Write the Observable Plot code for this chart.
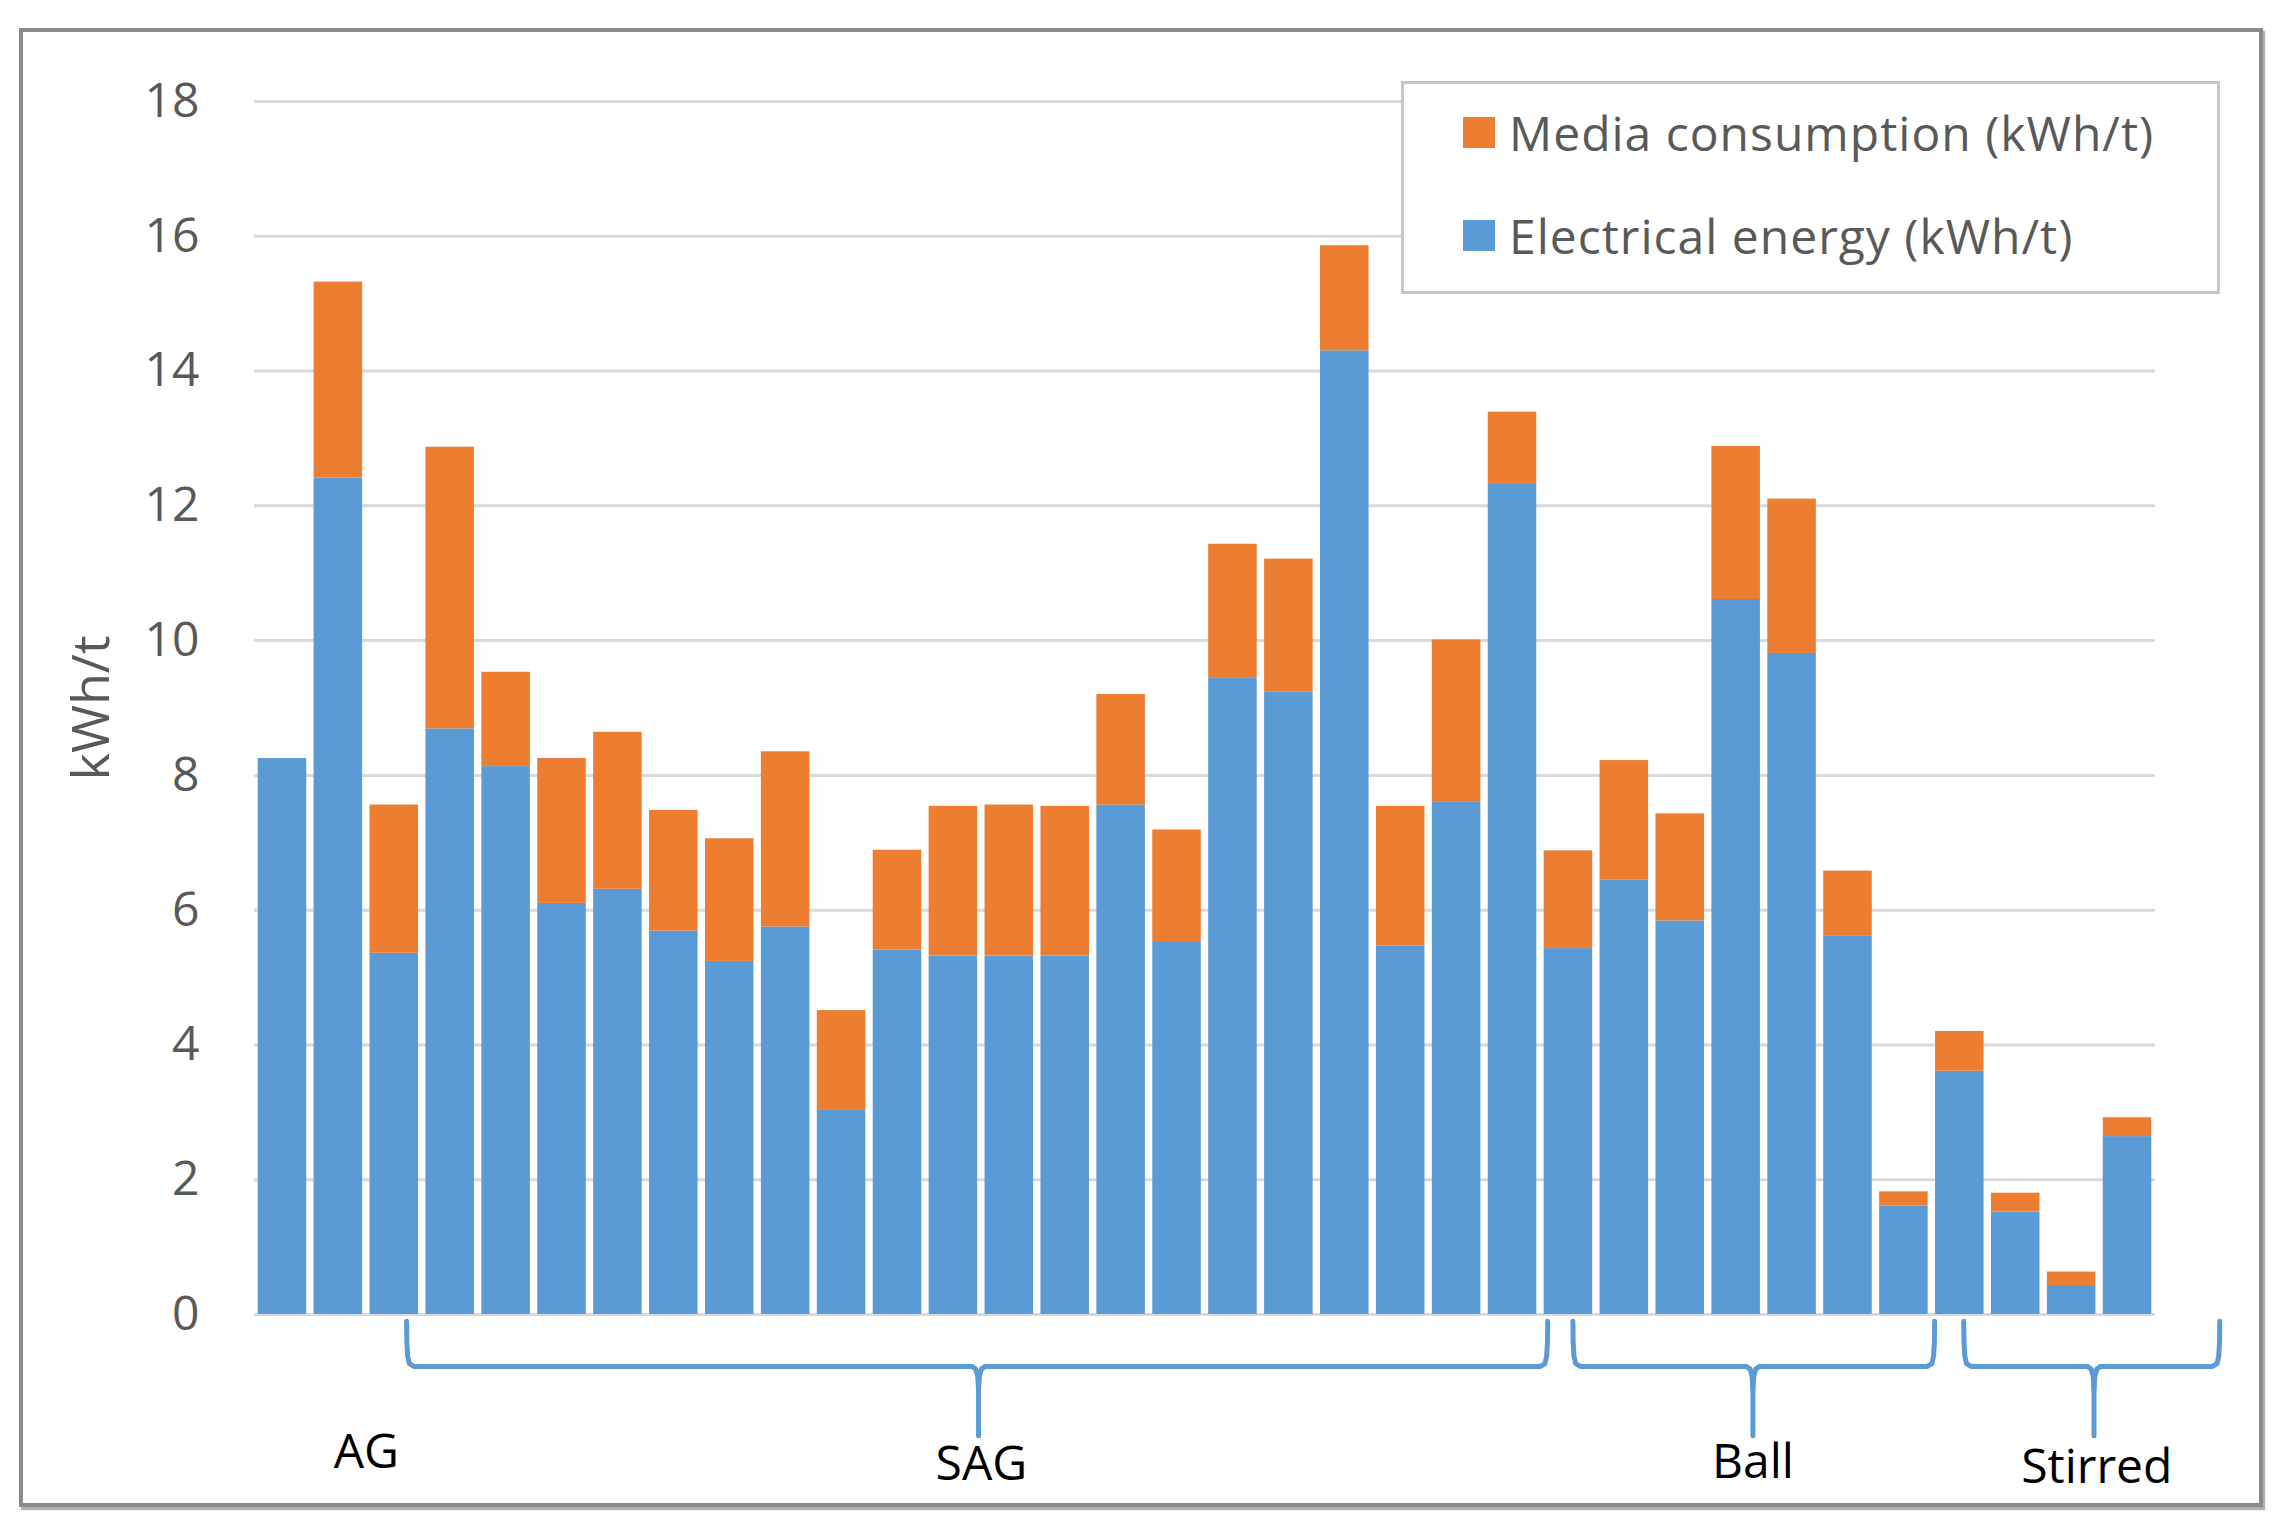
<!DOCTYPE html>
<html>
<head>
<meta charset="utf-8">
<script src="https://cdn.jsdelivr.net/npm/d3@7"></script>
<script src="https://cdn.jsdelivr.net/npm/@observablehq/plot@0.6"></script>
<style>
  html, body { margin: 0; padding: 0; background: #fff; }
  #wrap { position: relative; width: 2289px; height: 1528px; overflow: hidden; font-family: "Open Sans", "Noto Sans", sans-serif; }
  #frame { position: absolute; left: 19px; top: 28px; width: 2236px; height: 1471px; border: 4px solid #8a8a8a; box-shadow: 2px 3px 1px #b0b0b0; pointer-events: none; }
  #legend { position: absolute; left: 1401px; top: 81px; width: 813px; height: 207px; border: 3px solid #c6c6c6; background: #fff; }
  .item { position: absolute; left: 59px; height: 40px; display: flex; align-items: center; font-size: 48px; letter-spacing: 1px; color: #595959; white-space: nowrap; }
  .sw { width: 32px; height: 31px; margin-right: 14px; }
  #chart { position: absolute; left: 0; top: 0; }
</style>
</head>
<body>
<div id="wrap">
  <div id="chart"></div>
  <div id="frame"></div>
  <div id="legend"></div>
</div>
<script>
// ---- data ----
const bars = d3.range(1, 35); // 34 mills
const electrical = [8.25, 12.41, 5.36, 8.69, 8.13, 6.10, 6.31, 5.69, 5.24, 5.75,
  3.04, 5.41, 5.32, 5.32, 5.32, 7.56, 5.52, 9.44, 9.24, 14.30,
  5.47, 7.60, 12.33, 5.43, 6.45, 5.84, 10.61, 9.81, 5.62, 1.61,
  3.61, 1.52, 0.43, 2.64];
const media = [0.0, 2.91, 2.20, 4.18, 1.40, 2.15, 2.33, 1.79, 1.82, 2.60,
  1.47, 1.48, 2.22, 2.24, 2.22, 1.64, 1.67, 1.99, 1.97, 1.56,
  2.07, 2.41, 1.06, 1.45, 1.77, 1.59, 2.27, 2.29, 0.96, 0.21,
  0.59, 0.28, 0.20, 0.28];
const seriesNames = ["Media consumption (kWh/t)", "Electrical energy (kWh/t)"];
const seriesColors = ["#ED7D31", "#5B9BD5"];
const groupNames = ["AG", "SAG", "Ball", "Stirred"];
const yTicks = [0, 2, 4, 6, 8, 10, 12, 14, 16, 18];

// ---- annotation layout (bar-slot units along x, kWh/t along y) ----
const groupLabelAt = [2.0, 13.0, 26.8, 32.95];
const groupLabelY = [-2.28, -2.45, -2.43, -2.5];
const bracketSpans = [null, [2.72, 23.13, 12.95], [23.58, 30.05, 26.8], [30.57, 35.15, 32.9]];

(function () {
  const inset = 0.066;
  const rects = [];
  bars.forEach((b, i) => {
    rects.push({x1: i + inset, x2: i + 1 - inset, y1: 0, y2: electrical[i], s: seriesNames[1]});
    if (media[i] > 0) rects.push({x1: i + inset, x2: i + 1 - inset, y1: electrical[i], y2: electrical[i] + media[i], s: seriesNames[0]});
  });

  const yTop = -0.1, yH = -0.77, yTip = -1.8;
  const bracePts = [];
  bracketSpans.forEach((sp, g) => {
    if (!sp) return;
    const [a, b, c] = sp;
    const L = [[a, yTop], [a + 0.005, yH + 0.35], [a + 0.02, yH + 0.15], [a + 0.05, yH + 0.04], [a + 0.13, yH],
               [c - 0.12, yH], [c - 0.05, yH - 0.04], [c - 0.015, yH - 0.15], [c, yH - 0.35], [c, yTip]];
    const R = [[c, yH - 0.35], [c + 0.015, yH - 0.15], [c + 0.05, yH - 0.04], [c + 0.12, yH],
               [b - 0.13, yH], [b - 0.05, yH + 0.04], [b - 0.02, yH + 0.15], [b - 0.005, yH + 0.35], [b, yTop]];
    L.forEach(p => bracePts.push({x: p[0], y: p[1], z: groupNames[g] + "L"}));
    R.forEach(p => bracePts.push({x: p[0], y: p[1], z: groupNames[g] + "R"}));
  });
  const labels = groupNames.map((n, i) => ({n, x: groupLabelAt[i], y: groupLabelY[i]}));

  const chart = Plot.plot({
    width: 2289,
    height: 1528,
    marginLeft: 254,
    marginRight: 134,
    marginTop: 101,
    marginBottom: 214,
    style: {fontFamily: "'Open Sans', 'Noto Sans', sans-serif", background: "transparent"},
    x: {type: "linear", domain: [0, 34], axis: null},
    y: {domain: [0, 18], ticks: yTicks, label: null},
    color: {domain: seriesNames, range: seriesColors},
    marks: [
      Plot.gridY(yTicks, {stroke: "#d9d9d9", strokeOpacity: 1, strokeWidth: 3}),
      Plot.axisY(yTicks, {tickSize: 0, tickPadding: 55, fontSize: 48, fill: "#595959", label: null, tickFormat: d => String(d)}),
      Plot.text(["kWh/t"], {frameAnchor: "left", textAnchor: "middle", dx: -162, rotate: -90, fontSize: 52, fill: "#595959"}),
      Plot.rect(rects, {x1: "x1", x2: "x2", y1: "y1", y2: "y2", fill: "s"}),
      Plot.line(bracePts, {x: "x", y: "y", z: "z", stroke: "#5B9BD5", strokeWidth: 5, curve: "linear", strokeLinejoin: "round"}),
      Plot.text(labels, {x: "x", y: "y", text: "n", fontSize: 48, fill: "#000", lineAnchor: "bottom"})
    ]
  });
  document.getElementById("chart").appendChild(chart);

  const leg = document.getElementById("legend");
  const legTops = [14, 117];
  seriesNames.forEach((n, i) => {
    const d = document.createElement("div");
    d.className = "item";
    d.style.top = (legTops[i] + 14) + "px";
    d.innerHTML = `<span class="sw" style="background:${seriesColors[i]}"></span><span>${n}</span>`;
    leg.appendChild(d);
  });
})();
</script>
</body>
</html>
